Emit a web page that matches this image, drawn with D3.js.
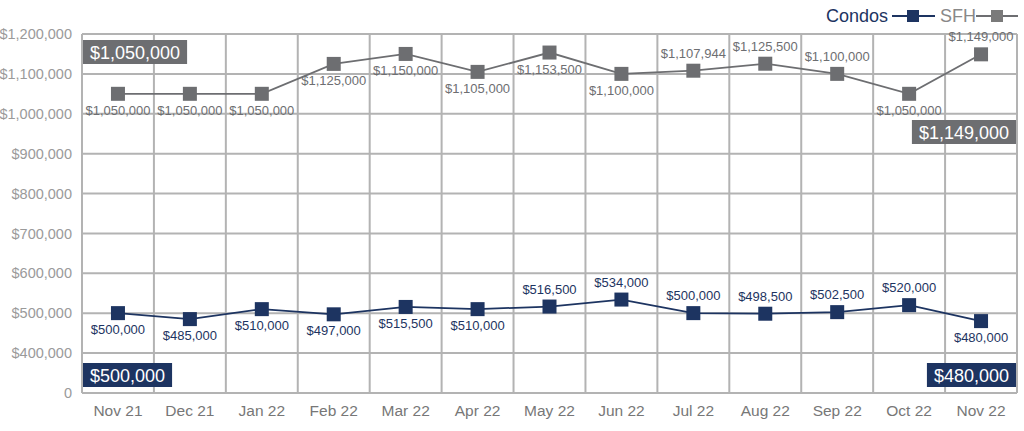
<!DOCTYPE html>
<html><head><meta charset="utf-8">
<script src="https://cdn.jsdelivr.net/npm/d3@7/dist/d3.min.js"></script>
<style>
html,body{margin:0;padding:0;background:#fff;}
svg text{font-family:"Liberation Sans",Arial,Helvetica,sans-serif;}
</style></head>
<body>
<svg id="chart" width="1024" height="431"></svg>
<script>
const months = ["Nov 21","Dec 21","Jan 22","Feb 22","Mar 22","Apr 22","May 22","Jun 22","Jul 22","Aug 22","Sep 22","Oct 22","Nov 22"];
const condos = [500000,485000,510000,497000,515500,510000,516500,534000,500000,498500,502500,520000,480000];
const sfh = [1050000,1050000,1050000,1125000,1150000,1105000,1153500,1100000,1107944,1125500,1100000,1050000,1149000];
// label position: 1 = above, 0 = below
const condoLabelAbove = [0,0,0,0,0,0,1,1,1,1,1,1,0];
const sfhLabelAbove = [0,0,0,0,0,0,0,0,1,1,1,0,1];
const yTicks = [0,400000,500000,600000,700000,800000,900000,1000000,1100000,1200000];

const NAVY = "#1d3461", GRAY = "#6d6e71", GRID = "#b3b3b3";
const svg = d3.select("#chart");
const L = 82, R = 1017, T = 34, B = 393;

const x = d3.scaleBand().domain(months).range([L, R]);
const y = d3.scaleLinear().domain([0, 400000, 1200000]).range([B, B - 40, T]);
const fmt = v => v === 0 ? "0" : "$" + d3.format(",")(v);

// grid
const g = svg.append("g");
g.selectAll("line.h").data(yTicks).join("line")
  .attr("x1", L).attr("x2", R).attr("y1", d => y(d)).attr("y2", d => y(d))
  .attr("stroke", GRID).attr("stroke-width", 2);
const vlines = months.map(m => x(m)).concat([R]);
g.selectAll("line.v").data(vlines).join("line")
  .attr("x1", d => d).attr("x2", d => d).attr("y1", T).attr("y2", B)
  .attr("stroke", GRID).attr("stroke-width", 2);

// y axis labels
const yAxis = d3.axisLeft(y).tickValues(yTicks).tickFormat(fmt).tickSize(0).tickPadding(10);
const ya = svg.append("g").attr("transform", `translate(${L},0)`).call(yAxis);
ya.select(".domain").remove();
ya.selectAll("text").attr("fill", "#9a9a9a").attr("font-size", 14.5).attr("font-family", "Liberation Sans, Arial, sans-serif");

// x axis labels
const xAxis = d3.axisBottom(x).tickSize(0).tickPadding(12);
const xa = svg.append("g").attr("transform", `translate(0,${B})`).call(xAxis);
xa.select(".domain").remove();
xa.selectAll("text").attr("fill", "#777").attr("font-size", 15.5).attr("font-family", "Liberation Sans, Arial, sans-serif");

const cx = m => x(m) + x.bandwidth() / 2;

function series(vals, color, above, labelColor, weight) {
  const line = d3.line().x((d, i) => cx(months[i])).y(d => y(d));
  svg.append("path").datum(vals).attr("d", line).attr("fill", "none")
    .attr("stroke", color).attr("stroke-width", 1.8);
  const s = 14;
  svg.selectAll(null).data(vals).join("rect")
    .attr("x", (d, i) => cx(months[i]) - s / 2).attr("y", d => y(d) - s / 2)
    .attr("width", s).attr("height", s).attr("fill", color);
  svg.selectAll(null).data(vals).join("text")
    .attr("x", (d, i) => cx(months[i]))
    .attr("y", (d, i) => above[i] ? y(d) - 13 : y(d) + 21)
    .attr("text-anchor", "middle").attr("font-size", 13).attr("font-weight", weight)
    .attr("fill", labelColor).text(d => fmt(d));
}
series(sfh, GRAY, sfhLabelAbove, "#6d6e71", "normal");
series(condos, NAVY, condoLabelAbove, NAVY, "normal");

// callout boxes
function callout(val, color, xPos, yc, anchorRight) {
  const grp = svg.append("g");
  const t = grp.append("text").attr("font-size", 18).attr("fill", "#fff").text(fmt(val));
  const w = t.node().getComputedTextLength() + 14, h = 24;
  const bx = anchorRight ? xPos - w : xPos;
  grp.insert("rect", "text").attr("x", bx).attr("y", yc - h / 2).attr("width", w).attr("height", h).attr("fill", color);
  t.attr("x", bx + 7).attr("y", yc + 6.5);
}
callout(sfh[0], GRAY, L + 1, 52, false);
callout(sfh[sfh.length - 1], GRAY, R - 1, 132, true);
callout(condos[0], NAVY, L + 1, 375, false);
callout(condos[condos.length - 1], NAVY, R - 1, 375, true);

// legend
const lg = svg.append("g");
lg.append("text").attr("x", 888).attr("y", 22).attr("text-anchor", "end")
  .attr("font-size", 18).attr("fill", NAVY).text("Condos");
lg.append("line").attr("x1", 892).attr("x2", 935).attr("y1", 16).attr("y2", 16).attr("stroke", NAVY).attr("stroke-width", 2);
lg.append("rect").attr("x", 907).attr("y", 10).attr("width", 12).attr("height", 12).attr("fill", NAVY);
lg.append("text").attr("x", 940).attr("y", 22).attr("font-size", 18).attr("fill", "#888").text("SFH");
lg.append("line").attr("x1", 976).attr("x2", 1018).attr("y1", 16).attr("y2", 16).attr("stroke", GRAY).attr("stroke-width", 2);
lg.append("rect").attr("x", 991).attr("y", 10).attr("width", 12).attr("height", 12).attr("fill", "#7a7a7a");
</script>
</body></html>
